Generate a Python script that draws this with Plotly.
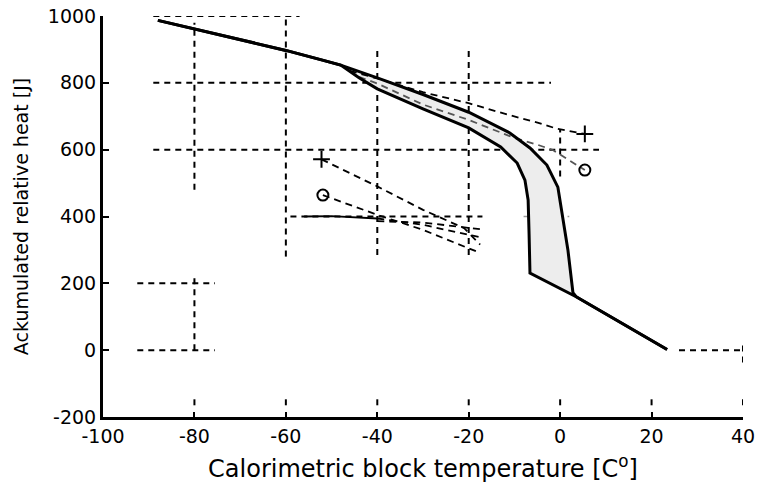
import plotly.graph_objects as go

# ---- data ----
upper_x = [-88, -60, -52, -48, -40, -30, -20, -11, -6.6, -2.9, -0.5, 0.6, 1.7, 2.8, 3.5, 23.4]
upper_y = [987, 897, 868, 853, 815, 765, 712, 650, 605, 554, 488, 400, 300, 172, 160, 2]

lower_x = [-88, -60, -52, -48, -44, -40, -30, -20, -13, -9.4, -7.7, -7.0, -6.8, -6.6, 3.5, 23.4]
lower_y = [987, 897, 868, 853, 815, 782, 722, 665, 608, 560, 509, 449, 350, 231, 160, 2]

plus_top_x = [-46, -40, -30, -20, -11, -4.4, -0.8, 5.4]
plus_top_y = [836, 813, 772, 739, 703, 679, 663, 647]

circ_top_x = [-44, -40, -30, -20, -10, -5, -1.6, 5.4]
circ_top_y = [818, 798, 735, 689, 635, 615, 599, 539]

plus_left_x = [-52.2, -40, -30, -21, -17.5]
plus_left_y = [571, 490, 420, 365, 316]

circ_left_x = [-51.9, -48, -40, -30, -17.5]
circ_left_y = [464, 445, 405, 360, 291]

solid_left_x = [-56, -50, -40]
solid_left_y = [400, 401, 394]
dash_left_x = [-40, -30, -17.5]
dash_left_y = [394, 375, 338]
dash_left2_x = [-40, -30, -17.5]
dash_left2_y = [386, 382, 362]

# partial dashed grid segments: (value, start, end)
hgrid = [(1000, -89, -57), (800, -89, -2), (600, -89, 8.5), (400, -59, -17),
         (200, -92.5, -75.5), (0, -92.5, -75.5), (0, 26, 40)]
vgrid = [(-80, 480, 980), (-80, 0, 226), (-60, 280, 1000), (-40, 285, 903),
         (-20, 285, 903), (0, 520, 660), (40, -37, 23),
         (-80, -165, -140), (-60, -165, -140), (-40, -165, -140), (-20, -165, -140),
         (0, -165, -140), (20, -165, -140), (40, -165, -140)]
hgrid_gray = [(400, -8, 2)]
vgrid_gray = [(0, 180, 430)]

x_ticks = [-100, -80, -60, -40, -20, 0, 20, 40]
x_tick_labels = ["-100", "-80", "-60", "-40", "-20", "0", "20", "40"]
y_ticks = [-200, 0, 200, 400, 600, 800, 1000]
y_tick_labels = ["-200", "0", "200", "400", "600", "800", "1000"]


def seg_h(segs):
    xs, ys = [], []
    for v, a, b in segs:
        xs += [a, b, None]
        ys += [v, v, None]
    return xs, ys


def seg_v(segs):
    xs, ys = [], []
    for v, a, b in segs:
        xs += [v, v, None]
        ys += [a, b, None]
    return xs, ys


fig = go.Figure()

# grid pieces
hx, hy = seg_h(hgrid)
vx, vy = seg_v(vgrid)
fig.add_trace(go.Scatter(x=hx + vx, y=hy + vy, mode="lines",
                         line=dict(color="black", width=2, dash="6px,5px"),
                         hoverinfo="skip", showlegend=False))
gx, gy = seg_h(hgrid_gray)
gvx, gvy = seg_v(vgrid_gray)
fig.add_trace(go.Scatter(x=gx + gvx, y=gy + gvy, mode="lines",
                         line=dict(color="#9a9a9a", width=1.4, dash="6px,5px"),
                         hoverinfo="skip", showlegend=False))

# shaded band between the curves
fig.add_trace(go.Scatter(x=upper_x + lower_x[::-1], y=upper_y + lower_y[::-1],
                         fill="toself", fillcolor="#ededed", mode="lines",
                         line=dict(width=0), hoverinfo="skip", showlegend=False))

# dashed series
for xs, ys, col in [(plus_top_x, plus_top_y, "black"),
                    (circ_top_x, circ_top_y, "#555555"),
                    (plus_left_x, plus_left_y, "black"),
                    (circ_left_x, circ_left_y, "black"),
                    (dash_left_x, dash_left_y, "black"),
                    (dash_left2_x, dash_left2_y, "black")]:
    fig.add_trace(go.Scatter(x=xs, y=ys, mode="lines",
                             line=dict(color=col, width=1.8, dash="7px,5px"),
                             showlegend=False))

fig.add_trace(go.Scatter(x=solid_left_x, y=solid_left_y, mode="lines",
                         line=dict(color="black", width=1.8), showlegend=False))

# main solid curves
fig.add_trace(go.Scatter(x=upper_x, y=upper_y, mode="lines",
                         line=dict(color="black", width=3), showlegend=False))
fig.add_trace(go.Scatter(x=lower_x, y=lower_y, mode="lines",
                         line=dict(color="black", width=3), showlegend=False))

# end markers
fig.add_trace(go.Scatter(x=[plus_top_x[-1], plus_left_x[0]], y=[plus_top_y[-1], plus_left_y[0]],
                         mode="markers",
                         marker=dict(symbol="cross-thin-open", size=12, color="black",
                                     line=dict(color="black", width=2)),
                         showlegend=False))
fig.add_trace(go.Scatter(x=[circ_top_x[-1], circ_left_x[0]], y=[circ_top_y[-1], circ_left_y[0]],
                         mode="markers",
                         marker=dict(symbol="circle-open", size=11, color="black",
                                     line=dict(color="black", width=2)),
                         showlegend=False))

font_family = "DejaVu Sans, Liberation Sans, sans-serif"
fig.update_layout(
    width=757, height=484,
    margin=dict(l=103, r=14, t=16, b=67),
    paper_bgcolor="white", plot_bgcolor="white",
    font=dict(family=font_family, color="black", size=19),
    xaxis=dict(range=[-100, 40], tickvals=x_ticks, ticktext=x_tick_labels,
               ticks="inside", ticklen=5, automargin=False,
               tickwidth=2, tickcolor="black", showgrid=False, zeroline=False,
               showline=True, linecolor="black", linewidth=3,
               tickfont=dict(size=19, color="black"), ticklabeloverflow="allow",
               title=dict(text="Calorimetric block temperature [C<sup>o</sup>]",
                          font=dict(size=24, color="black"))),
    yaxis=dict(range=[-200, 1000], tickvals=y_ticks, ticktext=y_tick_labels,
               ticks="inside", ticklen=6, automargin=False,
               tickwidth=2, tickcolor="black", showgrid=False, zeroline=False,
               showline=True, linecolor="black", linewidth=3,
               tickfont=dict(size=19, color="black"), ticklabeloverflow="allow",
               title=dict(text="Ackumulated relative heat [J]",
                          font=dict(size=19, color="black"))),
)

fig.write_html("out.html", config={"displayModeBar": False},
               post_script="document.body.style.margin='0';document.body.style.overflow='hidden';")
